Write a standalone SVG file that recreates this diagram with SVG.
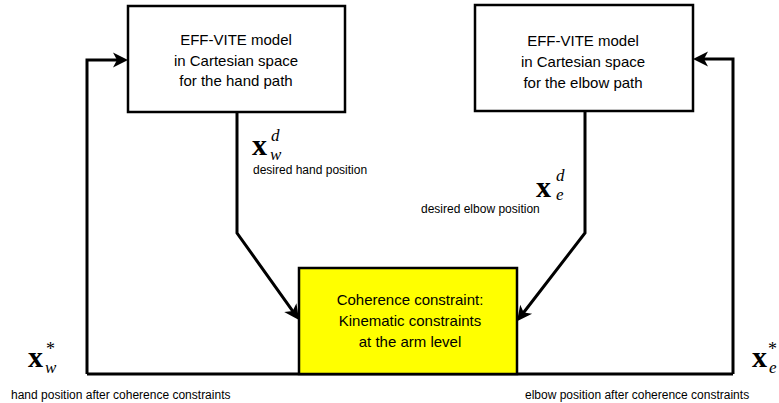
<svg xmlns="http://www.w3.org/2000/svg" width="779" height="403" viewBox="0 0 779 403">
<style>
.box{fill:#fff;stroke:#000;stroke-width:2.5}
.ybox{fill:#ffff00;stroke:#000;stroke-width:2.5}
.lbl{font-family:"Liberation Sans",Arial,sans-serif;font-size:15px;fill:#000;text-anchor:middle}
.sm{font-family:"Liberation Sans",Arial,sans-serif;font-size:12px;fill:#000}
.mx{font-family:"Liberation Serif","Times New Roman",serif;font-weight:bold;font-size:30px;fill:#000}
.mi{font-family:"Liberation Serif","Times New Roman",serif;font-style:italic;font-size:17px;fill:#000}
.ms{font-family:"Liberation Serif","Times New Roman",serif;font-size:18px;fill:#000}
.wire{fill:none;stroke:#000;stroke-width:3;stroke-linejoin:miter}
</style>
<defs>
<marker id="ah" markerUnits="userSpaceOnUse" markerWidth="18" markerHeight="18" refX="6" refY="0" viewBox="0 -9 18 18" orient="auto" overflow="visible">
<path d="M15,0 L0,-7.5 L4,0 L0,7.5 Z" fill="#000"/>
</marker>
</defs>
<g id="connectors">
<path class="wire" d="M237,112 L237,233 L293.8,312.6" marker-end="url(#ah)"/>
<path class="wire" d="M585,111 L585,233 L522.5,314" marker-end="url(#ah)"/>
<path class="wire" d="M87,374 L87,60 L119,60" marker-end="url(#ah)"/>
<path class="wire" d="M733,374 L733,59 L702,59" marker-end="url(#ah)"/>
<path class="wire" d="M87,374 L733,374"/>
</g>
<g id="node-hand">
<rect class="box" x="128" y="6" width="217" height="106"/>
<text class="lbl" x="236" y="45">EFF-VITE model</text>
<text class="lbl" x="236" y="66">in Cartesian space</text>
<text class="lbl" x="236" y="86">for the hand path</text>
</g>
<g id="node-elbow">
<rect class="box" x="475" y="5" width="218" height="106"/>
<text class="lbl" x="583" y="46">EFF-VITE model</text>
<text class="lbl" x="583" y="67">in Cartesian space</text>
<text class="lbl" x="583" y="88">for the elbow path</text>
</g>
<g id="node-coherence">
<rect class="ybox" x="299" y="268" width="218" height="106"/>
<text class="lbl" x="410" y="305">Coherence constraint:</text>
<text class="lbl" x="410" y="326">Kinematic constraints</text>
<text class="lbl" x="410" y="347">at the arm level</text>
</g>
<g id="label-xwd">
<text class="mx" x="252" y="155">x</text>
<text class="mi" x="271" y="141">d</text>
<text class="mi" x="270" y="160">w</text>
<text class="sm" x="253" y="174">desired hand position</text>
</g>
<g id="label-xed">
<text class="mx" x="536" y="197">x</text>
<text class="mi" x="556" y="181">d</text>
<text class="mi" x="556" y="200">e</text>
<text class="sm" x="421" y="213">desired elbow position</text>
</g>
<g id="label-xws">
<text class="mx" x="28" y="367">x</text>
<text class="ms" x="46" y="355">*</text>
<text class="mi" x="45" y="373">w</text>
<text class="sm" x="11" y="399">hand position after coherence constraints</text>
</g>
<g id="label-xes">
<text class="mx" x="752" y="367">x</text>
<text class="ms" x="768" y="355">*</text>
<text class="mi" x="769" y="373">e</text>
<text class="sm" x="525" y="399">elbow position after coherence constraints</text>
</g>
</svg>
